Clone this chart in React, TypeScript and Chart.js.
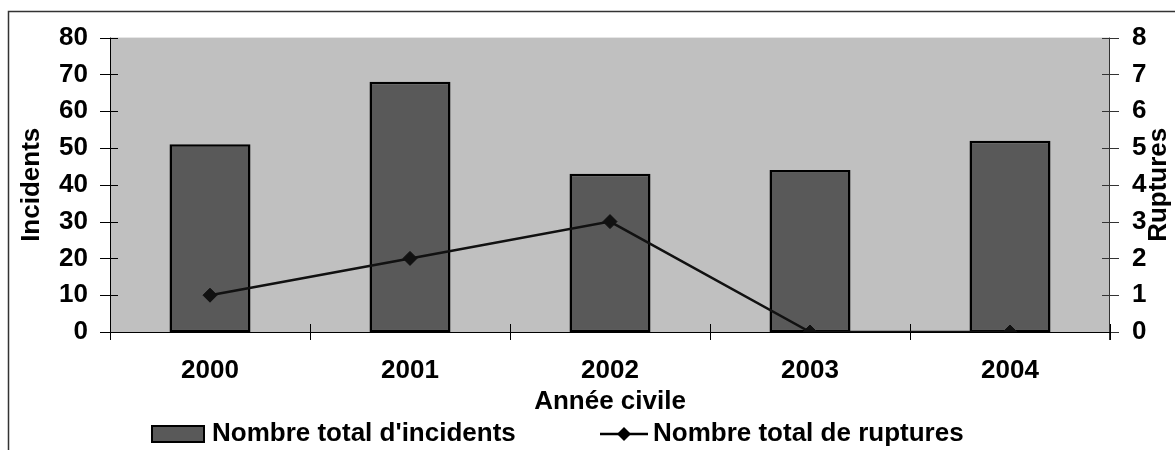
import React, { useEffect, useRef } from "react";
import { Chart, registerables } from "chart.js";

Chart.register(...registerables);

// Annual figures
const years = ["2000", "2001", "2002", "2003", "2004"];
const incidents = [51, 68, 43, 44, 52];
const ruptures = [1, 2, 3, 0, 0];

const incidentsLabel = "Nombre total d'incidents";
const rupturesLabel = "Nombre total de ruptures";
const leftTitle = "Incidents";
const rightTitle = "Ruptures";
const xTitle = "Année civile";

const FONT_FAMILY = '"Liberation Sans", Arial, Helvetica, sans-serif';
const BAR_FILL = "#595959";
const PLOT_BG = "#C0C0C0";

const font = (size: number) => `bold ${size}px ${FONT_FAMILY}`;

const decorations = {
  id: "decorations",
  beforeDraw(chart: any) {
    const { ctx, chartArea: a, width, height } = chart;
    ctx.save();
    ctx.fillStyle = "#ffffff";
    ctx.fillRect(0, 0, width, height);
    // frame around the figure
    ctx.strokeStyle = "#333333";
    ctx.lineWidth = 1.5;
    ctx.beginPath();
    ctx.moveTo(8.5, height);
    ctx.lineTo(8.5, 11.5);
    ctx.lineTo(width, 11.5);
    ctx.stroke();
    // plot background
    ctx.fillStyle = PLOT_BG;
    ctx.fillRect(a.left, a.top, a.right - a.left, a.bottom - a.top);
    ctx.restore();
  },
  beforeDatasetsDraw(chart: any) {
    const { ctx, chartArea: a, scales } = chart;
    ctx.save();
    ctx.lineWidth = 1;
    ctx.strokeStyle = "#000000";
    // left axis
    ctx.beginPath();
    ctx.moveTo(a.left + 0.5, a.top);
    ctx.lineTo(a.left + 0.5, a.bottom);
    for (const t of scales.y.ticks) {
      const y = Math.round(scales.y.getPixelForValue(t.value)) + 0.5;
      ctx.moveTo(a.left - 10, y);
      ctx.lineTo(a.left + 8, y);
    }
    ctx.stroke();
    // right axis
    ctx.strokeStyle = "#333333";
    ctx.beginPath();
    ctx.moveTo(a.right - 0.5, a.top);
    ctx.lineTo(a.right - 0.5, a.bottom + 8);
    for (const t of scales.y2.ticks) {
      const y = Math.round(scales.y2.getPixelForValue(t.value)) + 0.5;
      ctx.moveTo(a.right - 8, y);
      ctx.lineTo(a.right + 9, y);
    }
    ctx.stroke();
    // category axis with ticks between categories
    ctx.strokeStyle = "#000000";
    ctx.beginPath();
    ctx.moveTo(a.left, a.bottom + 0.5);
    ctx.lineTo(a.right, a.bottom + 0.5);
    const n = years.length;
    const step = (a.right - a.left) / n;
    for (let i = 0; i <= n; i++) {
      const x = Math.round(a.left + i * step) + 0.5;
      ctx.moveTo(x, a.bottom - 8);
      ctx.lineTo(x, a.bottom + 8);
    }
    ctx.stroke();
    ctx.restore();
  },
  afterDraw(chart: any) {
    const { ctx, chartArea: a } = chart;
    const midY = (a.top + a.bottom) / 2;
    ctx.save();
    ctx.fillStyle = "#000000";
    ctx.font = font(26);
    ctx.textAlign = "center";
    ctx.textBaseline = "middle";
    // axis titles
    ctx.save();
    ctx.translate(32, midY);
    ctx.rotate(-Math.PI / 2);
    ctx.fillText(leftTitle, 0, 0);
    ctx.restore();
    ctx.save();
    ctx.translate(1159, midY);
    ctx.rotate(-Math.PI / 2);
    ctx.fillText(rightTitle, 0, 0);
    ctx.restore();
    ctx.fillText(xTitle, (a.left + a.right) / 2, 402);

    // legend
    const ly = 434;
    ctx.textAlign = "left";
    ctx.fillStyle = BAR_FILL;
    ctx.fillRect(152, ly - 8, 52, 16);
    ctx.strokeStyle = "#000000";
    ctx.lineWidth = 2;
    ctx.strokeRect(152, ly - 8, 52, 16);
    ctx.fillStyle = "#000000";
    ctx.fillText(incidentsLabel, 212, ly);

    ctx.lineWidth = 2.5;
    ctx.beginPath();
    ctx.moveTo(600, ly);
    ctx.lineTo(648, ly);
    ctx.stroke();
    const r = 7;
    ctx.beginPath();
    ctx.moveTo(624 - r, ly);
    ctx.lineTo(624, ly - r);
    ctx.lineTo(624 + r, ly);
    ctx.lineTo(624, ly + r);
    ctx.closePath();
    ctx.fill();
    ctx.fillText(rupturesLabel, 653, ly);
    ctx.restore();
  },
};

export default function App() {
  const canvasRef = useRef<HTMLCanvasElement | null>(null);

  useEffect(() => {
    if (!canvasRef.current) return;
    const chart = new Chart(canvasRef.current, {
      type: "bar",
      data: {
        labels: years,
        datasets: [
          {
            type: "line",
            label: rupturesLabel,
            data: ruptures,
            yAxisID: "y2",
            order: 0,
            borderColor: "#111111",
            borderWidth: 2.5,
            pointStyle: "rectRot",
            pointRadius: 7,
            pointBackgroundColor: "#111111",
            pointBorderColor: "#111111",
            pointBorderWidth: 1,
            tension: 0,
            fill: false,
          } as any,
          {
            type: "bar",
            label: incidentsLabel,
            data: incidents,
            yAxisID: "y",
            order: 1,
            backgroundColor: BAR_FILL,
            borderColor: "#000000",
            borderWidth: 2.5,
            borderSkipped: false,
            categoryPercentage: 1,
            barPercentage: 0.405,
          },
        ],
      },
      options: {
        responsive: false,
        animation: false,
        layout: { padding: { top: 37, left: 0, right: 0, bottom: 0 } },
        plugins: {
          legend: { display: false },
          title: { display: false },
          tooltip: { enabled: false },
        },
        scales: {
          x: {
            offset: true,
            grid: { display: false, drawTicks: false },
            border: { display: false },
            ticks: {
              color: "#000000",
              font: { family: FONT_FAMILY, size: 26, weight: "bold" },
              padding: 23,
              maxRotation: 0,
            },
            afterFit: (s: any) => {
              s.height = 118;
            },
          },
          y: {
            position: "left",
            min: 0,
            max: 80,
            grid: { display: false, drawTicks: false },
            border: { display: false },
            ticks: {
              stepSize: 10,
              color: "#000000",
              font: { family: FONT_FAMILY, size: 26, weight: "bold" },
              padding: 22,
            },
            afterFit: (s: any) => {
              s.width = 110;
            },
          },
          y2: {
            position: "right",
            min: 0,
            max: 8,
            grid: { display: false, drawTicks: false },
            border: { display: false },
            ticks: {
              stepSize: 1,
              color: "#000000",
              font: { family: FONT_FAMILY, size: 26, weight: "bold" },
              padding: 22,
            },
            afterFit: (s: any) => {
              s.width = 65;
            },
          },
        },
      },
      plugins: [decorations],
    });
    return () => chart.destroy();
  }, []);

  return (
    <div style={{ position: "fixed", left: 0, top: 0 }}>
      <canvas ref={canvasRef} width={1175} height={450} style={{ display: "block" }} />
    </div>
  );
}
